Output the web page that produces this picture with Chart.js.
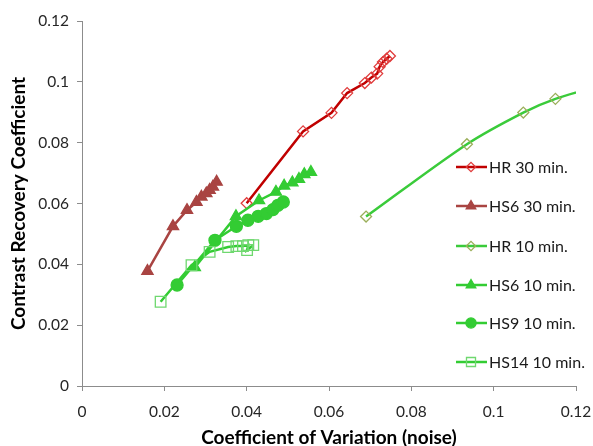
<!DOCTYPE html>
<html>
<head>
<meta charset="utf-8">
<script src="https://cdn.jsdelivr.net/npm/chart.js@4.4.1/dist/chart.umd.min.js"></script>
<style>
  html, body { margin: 0; padding: 0; background: #fff; }
  #wrap { width: 593px; height: 446px; position: relative; }
</style>
</head>
<body>
<div id="wrap"><canvas id="chart"></canvas></div>
<script>
// ─── Data ───────────────────────────────────────────────────────────────────

const seriesNames = ['HR 30 min.', 'HS6 30 min.', 'HR 10 min.', 'HS6 10 min.', 'HS9 10 min.', 'HS14 10 min.'];

const hr30X = [0.0400, 0.0537, 0.0606, 0.0644, 0.0687, 0.0703, 0.0717, 0.0723, 0.0731, 0.0740, 0.0748];
const hr30Y = [0.0601, 0.0837, 0.0898, 0.0963, 0.0996, 0.1014, 0.1027, 0.1050, 0.1065, 0.1076, 0.1085];

const hs6_30X = [0.0159, 0.0221, 0.0255, 0.0278, 0.0290, 0.0302, 0.0310, 0.0318, 0.0327];
const hs6_30Y = [0.0378, 0.0525, 0.0578, 0.0605, 0.0622, 0.0633, 0.0644, 0.0655, 0.0671];

const hr10X = [0.0690, 0.0935, 0.1072, 0.1150, 0.1260];
const hr10Y = [0.0557, 0.0795, 0.0899, 0.0944, 0.0988];

const hs6_10X = [0.0274, 0.0374, 0.0430, 0.0471, 0.0491, 0.0511, 0.0527, 0.0540, 0.0556];
const hs6_10Y = [0.0390, 0.0558, 0.0610, 0.0638, 0.0658, 0.0669, 0.0680, 0.0696, 0.0703];

const hs9_10X = [0.0231, 0.0323, 0.0375, 0.0403, 0.0428, 0.0448, 0.0464, 0.0476, 0.0489];
const hs9_10Y = [0.0332, 0.0479, 0.0525, 0.0545, 0.0558, 0.0567, 0.0580, 0.0594, 0.0605];

const hs14_10X = [0.0191, 0.0266, 0.0310, 0.0355, 0.0375, 0.0391, 0.0404, 0.0401, 0.0416];
const hs14_10Y = [0.0277, 0.0397, 0.0441, 0.0457, 0.0460, 0.0460, 0.0463, 0.0447, 0.0463];

const xTickLabels = ['0', '0.02', '0.04', '0.06', '0.08', '0.1', '0.12'];
const yTickLabels = ['0', '0.02', '0.04', '0.06', '0.08', '0.1', '0.12'];

const FONT = 'Lato, "Open Sans", sans-serif';

const pairs = (xs, ys) => xs.map((x, i) => ({ x, y: ys[i] }));

// ─── Datasets ───────────────────────────────────────────────────────────────

const styles = [
  { line: '#C00000', mark: '#E03C3C', fill: 'rgba(255,255,255,0)', style: 'rectRot', r: 5.5, tension: 0 },
  { line: '#A94442', mark: '#A94442', fill: '#A94442', style: 'triangle', r: 6.5, tension: 0 },
  { line: '#3ACB3A', mark: '#9BAF5A', fill: 'rgba(255,255,255,0)', style: 'rectRot', r: 5.5, tension: 0.3 },
  { line: '#33CC33', mark: '#33CC33', fill: '#33CC33', style: 'triangle', r: 6.5, tension: 0 },
  { line: '#33CC33', mark: '#33CC33', fill: '#33CC33', style: 'circle', r: 6, tension: 0 },
  { line: '#33CC33', mark: '#6FD86F', fill: 'rgba(255,255,255,0)', style: 'rect', r: 7.5, tension: 0 },
];

const dataPoints = [
  pairs(hr30X, hr30Y),
  pairs(hs6_30X, hs6_30Y),
  pairs(hr10X, hr10Y),
  pairs(hs6_10X, hs6_10Y),
  pairs(hs9_10X, hs9_10Y),
  pairs(hs14_10X, hs14_10Y),
];

const datasets = seriesNames.map((name, i) => ({
  label: name,
  data: dataPoints[i],
  showLine: true,
  borderColor: styles[i].line,
  borderWidth: 2.5,
  tension: styles[i].tension,
  pointStyle: styles[i].style,
  pointRadius: styles[i].r,
  pointBorderColor: styles[i].mark,
  pointBackgroundColor: styles[i].fill,
  pointBorderWidth: 1.3,
  order: seriesNames.length - i,   // later series on top, as in the original
}));

// ─── Legend drawn inside the plot, on the right ─────────────────────────────

const legendRows = [167, 206, 246, 285, 323, 362];

const insideLegend = {
  id: 'insideLegend',
  afterDraw(chart) {
    const ctx = chart.ctx;
    ctx.save();
    chart.data.datasets.forEach((ds, i) => {
      const y = legendRows[i];
      ctx.strokeStyle = ds.borderColor;
      ctx.lineWidth = 2.5;
      ctx.beginPath();
      ctx.moveTo(456, y);
      ctx.lineTo(487, y);
      ctx.stroke();

      ctx.fillStyle = ds.pointBackgroundColor;
      ctx.strokeStyle = ds.pointBorderColor;
      ctx.lineWidth = ds.pointBorderWidth;
      Chart.helpers.drawPoint(ctx, {
        pointStyle: ds.pointStyle,
        radius: ds.pointRadius * 0.85,
        rotation: 0,
        borderWidth: ds.pointBorderWidth,
      }, 471, y);

      ctx.fillStyle = '#1a1a1a';
      ctx.font = '16px ' + FONT;
      ctx.textAlign = 'left';
      ctx.textBaseline = 'middle';
      ctx.fillText(ds.label, 489, y + 1);
    });
    ctx.restore();
  },
};

// ─── Chart ──────────────────────────────────────────────────────────────────

new Chart(document.getElementById('chart'), {
  type: 'scatter',
  data: { datasets },
  plugins: [insideLegend],
  options: {
    responsive: true,
    maintainAspectRatio: false,
    animation: false,
    layout: { padding: { top: 21, right: 17, left: 0, bottom: 0 } },
    plugins: {
      legend: { display: false },
      tooltip: { enabled: false },
    },
    scales: {
      x: {
        type: 'linear',
        min: 0,
        max: 0.12,
        afterFit: s => { s.height = 60; s.paddingLeft = 0; s.paddingRight = 0; },
        afterBuildTicks: s => { s.ticks = xTickLabels.map(t => ({ value: +t })); },
        ticks: {
          color: '#262626',
          font: { family: FONT, size: 15.5 },
          padding: 12,
          callback: (v, i) => xTickLabels[i],
        },
        grid: { drawOnChartArea: false, drawTicks: true, tickLength: 5, color: '#8c8c8c' },
        border: { display: true, color: '#8c8c8c', width: 1 },
        title: {
          display: true,
          text: 'Coefficient of Variation (noise)',
          color: '#000',
          font: { family: FONT, size: 19, weight: 'bold', lineHeight: 1 },
          padding: { top: 0, bottom: -1 },
        },
      },
      y: {
        type: 'linear',
        min: 0,
        max: 0.12,
        afterFit: s => { s.width = 82; s.paddingTop = 0; s.paddingBottom = 0; },
        afterBuildTicks: s => { s.ticks = yTickLabels.map(t => ({ value: +t })); },
        ticks: {
          color: '#262626',
          font: { family: FONT, size: 15.5 },
          padding: 8,
          callback: (v, i) => yTickLabels[i],
        },
        grid: { drawOnChartArea: false, drawTicks: true, tickLength: 5, color: '#8c8c8c' },
        border: { display: true, color: '#8c8c8c', width: 1 },
        title: {
          display: true,
          text: 'Contrast Recovery Coefficient',
          color: '#000',
          font: { family: FONT, size: 19, weight: 'bold', lineHeight: 1 },
          padding: { top: 9.5, bottom: 0 },
        },
      },
    },
  },
});
</script>
</body>
</html>
